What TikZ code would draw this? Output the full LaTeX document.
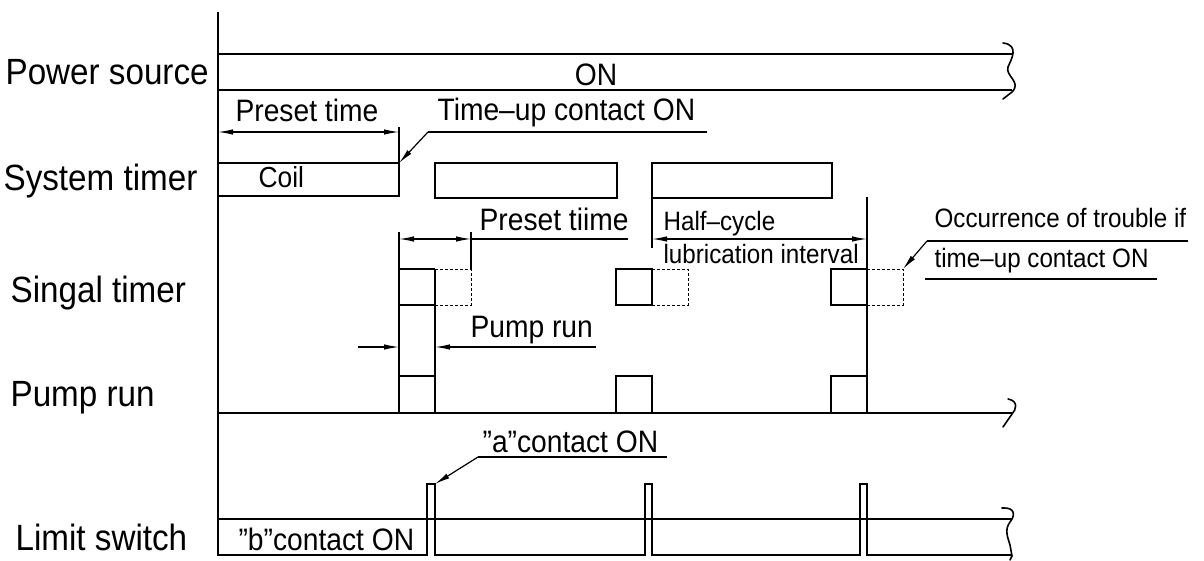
\documentclass[tikz,border=0pt]{standalone}
\usepackage{fontspec}
\setmainfont{Liberation Sans}[FakeStretch=0.91]
\usetikzlibrary{arrows.meta}
\begin{document}
\begin{tikzpicture}[x=1pt,y=-1pt, line width=1.2pt,
  lbl/.style={anchor=base west, inner sep=0pt, font=\fontsize{36.5}{40}\selectfont},
  txt/.style={anchor=base west, inner sep=0pt, font=\fontsize{31}{34}\selectfont},
  txs/.style={anchor=base west, inner sep=0pt, font=\fontsize{26.6}{30}\selectfont},
  tipend/.style={-{Latex[length=15pt,width=5.5pt]}},
  dimline/.style={{Latex[length=15pt,width=5.5pt]}-{Latex[length=15pt,width=5.5pt]}},
  brace/.style={line width=1.6pt, line cap=round},
  ghost/.style={dash pattern=on 3pt off 2pt, line width=0.9pt}]
\useasboundingbox (0,0) rectangle (1204,561);

% ---- row labels
\node[lbl] (ps) at (5,85) {Power source};
\node[lbl] (st) at (3,191) {System timer};
\node[lbl] (sg) at (10,302) {Singal timer};
\node[lbl] (pr) at (10,406) {Pump run};
\node[lbl] (ls) at (15,550) {Limit switch};

% ---- main axis
\coordinate (axT) at (218,12);
\coordinate (axB) at (218,556);
\draw (axT) -- (axB);

% ---- power source
\draw (218,54) -- (1012,54);
\draw (218,90) -- (1012,90);
\draw[brace] (1003,43) .. controls (1020,45) and (1011,60) .. (1008,67)
      .. controls (1005,76) and (1022,82) .. (1012,92) -- (1003,99);
\node[anchor=base, inner sep=0pt, font=\fontsize{31}{34}\selectfont] (on) at (596,86) {ON};

% ---- system timer
\node[txt] (pt1) at (235,122) {Preset time};
\coordinate (pt1a) at (218,132);
\coordinate (pt1b) at (399,132);
\draw[dimline] (pt1a) -- (pt1b);
\draw (399,127) -- (399,163);
\draw (218,163) -- (399,163) -- (399,196) -- (218,196);
\node[txt, font=\fontsize{29}{32}\selectfont] (coil) at (258,188) {Coil};
\draw (435,163) rectangle (617,198);
\draw (652,163) rectangle (832,198);

\node[txt] (tu) at (437,121) {Time--up contact ON};
\coordinate (tuL) at (428,132);
\coordinate (tuR) at (707,132);
\coordinate (tuT) at (399,163);
\draw (tuR) -- (tuL);
\draw[tipend] (tuL) -- (tuT);

% ---- singal timer / pump run, cycle 1
\draw (399,232) -- (399,413);
\draw (435,269) -- (435,413);
\draw (399,269) -- (435,269);
\draw (399,305) -- (435,305);
\draw (399,376) -- (435,376);
\draw (471,232) -- (471,269);
\draw[ghost] (435,269) -- (471,269) -- (471,305) -- (435,305);
\node[txt] (pt2) at (479,231) {Preset tiime};
\coordinate (pt2a) at (399,239);
\coordinate (pt2b) at (471,239);
\coordinate (pt2c) at (628,239);
\draw[dimline] (pt2a) -- (pt2b);
\draw (pt2b) -- (pt2c);

\node[txt] (prt) at (470,337) {Pump run};
\coordinate (pra) at (358,347);
\coordinate (prb) at (399,347);
\coordinate (prc) at (596,347);
\coordinate (prd) at (435,347);
\draw[tipend] (pra) -- (prb);
\draw[tipend] (prc) -- (prd);

% ---- cycle 2
\draw (616,269) rectangle (652,305);
\draw[ghost] (652,269) -- (688,269) -- (688,305) -- (652,305);
\draw (616,413) -- (616,376) -- (652,376) -- (652,413);
\draw (652,198) -- (652,248);

% ---- cycle 3
\draw (867,197) -- (867,413);
\draw (867,269) -- (831,269) -- (831,305) -- (867,305);
\draw[ghost] (867,269) -- (903,269) -- (903,305) -- (867,305);
\draw (831,413) -- (831,376) -- (867,376);

% ---- half-cycle
\coordinate (hcA) at (652,239);
\coordinate (hcB) at (867,239);
\draw[dimline] (hcA) -- (hcB);
\node[txs] (hc1) at (663,231) {Half--cycle};
\node[txs] (hc2) at (663,264) {lubrication interval};

% ---- occurrence of trouble
\node[txs] (oc1) at (934,228) {Occurrence of trouble if};
\node[txs] (oc2) at (934,268) {time--up contact ON};
\coordinate (ocL) at (927,241);
\coordinate (ocR) at (1188,241);
\coordinate (ocT) at (903,269);
\draw (ocR) -- (ocL);
\draw[tipend] (ocL) -- (ocT);
\draw (925,279) -- (1157,279);

% ---- pump run baseline
\draw (218,413) -- (1012,413);
\draw[brace] (1008,399) .. controls (1019,401) and (1016,410) .. (1012,414) -- (1003,427);

% ---- limit switch
\draw (218,519) -- (1012,519);
\draw (218,555) -- (427,555) -- (427,484) -- (435,484) -- (435,555)
      -- (645,555) -- (645,484) -- (652,484) -- (652,555)
      -- (860,555) -- (860,484) -- (867,484) -- (867,555) -- (1012,555);
\draw[brace] (1002,508) .. controls (1016,507) and (1015,516) .. (1010,522)
      .. controls (1004,530) and (1008,538) .. (1010,545) -- (1012,556) -- (1010,560);
\node[txt] (bc) at (238,550) {”b”contact ON};
\node[txt] (ac) at (482,452) {”a”contact ON};
\coordinate (acL) at (478,457);
\coordinate (acR) at (667,457);
\coordinate (acT) at (435,484);
\draw (acR) -- (acL);
\draw[tipend] (acL) -- (acT);
\end{tikzpicture}
\end{document}
